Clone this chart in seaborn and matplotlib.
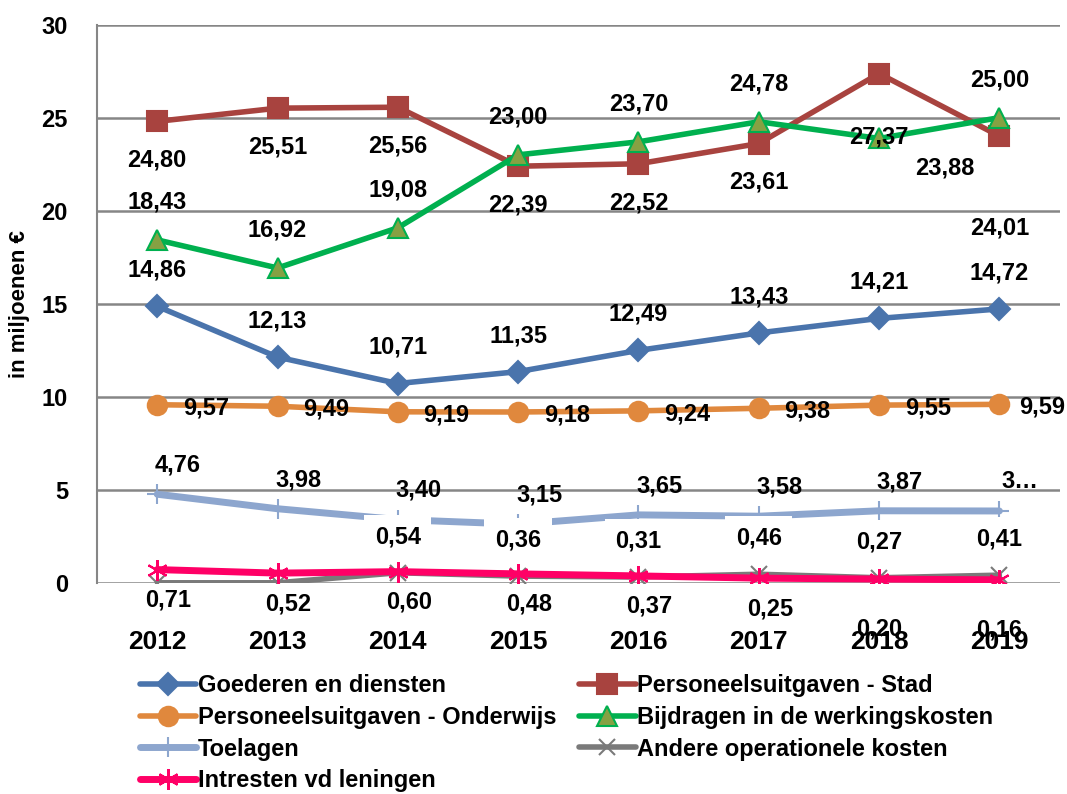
import matplotlib
matplotlib.use("Agg")
import matplotlib.pyplot as plt
import seaborn as sns
import numpy as np
import pandas as pd

years = ["2012", "2013", "2014", "2015", "2016", "2017", "2018", "2019"]
goederen = [14.86, 12.13, 10.71, 11.35, 12.49, 13.43, 14.21, 14.72]
stad = [24.80, 25.51, 25.56, 22.39, 22.52, 23.61, 27.37, 24.01]
onderwijs = [9.57, 9.49, 9.19, 9.18, 9.24, 9.38, 9.55, 9.59]
bijdragen = [18.43, 16.92, 19.08, 23.00, 23.70, 24.78, 23.88, 25.00]
toelagen = [4.76, 3.98, 3.40, 3.15, 3.65, 3.58, 3.87, 3.86]
andere = [0.00, 0.00, 0.54, 0.36, 0.31, 0.46, 0.27, 0.41]
intresten = [0.71, 0.52, 0.60, 0.48, 0.37, 0.25, 0.20, 0.16]
series_names = ["Goederen en diensten", "Personeelsuitgaven - Stad",
                "Personeelsuitgaven - Onderwijs", "Bijdragen in de werkingskosten",
                "Toelagen", "Andere operationele kosten", "Intresten vd leningen"]
y_ticks = [0, 5, 10, 15, 20, 25, 30]
y_label = "in miljoenen €"

sns.set_theme(style="white")
FONT = ["Liberation Sans", "DejaVu Sans"]
plt.rcParams["font.family"] = FONT
for k in ["text.color", "axes.labelcolor", "xtick.color", "ytick.color"]:
    plt.rcParams[k] = "black"

fig = plt.figure(figsize=(10.67, 7.94), dpi=100)
ax = fig.add_axes([0.091, 0.266, 0.902, 0.703])

x = np.arange(len(years))
all_vals = [goederen, stad, onderwijs, bijdragen, toelagen, andere, intresten]

styles = [
    dict(color="#4A74AC", marker="D", ms=11, lw=4.0, mfc="#4A74AC", mec="#4A74AC"),
    dict(color="#A8433F", marker="s", ms=14, lw=4.0, mfc="#A8433F", mec="#A8433F"),
    dict(color="#E0883D", marker="o", ms=14, lw=4.0, mfc="#E0883D", mec="#E0883D"),
    dict(color="#00B04F", marker="^", ms=14, lw=4.0, mfc="#86A143", mec="#00B04F"),
    dict(color="#8DA6CE", marker="+", ms=14, lw=5.0, mfc="#8DA6CE", mec="#8DA6CE"),
    dict(color="#7A7A7A", marker="x", ms=12, lw=4.0, mfc="#7A7A7A", mec="#7A7A7A"),
    dict(color="#FF0066", marker=(6, 2, 0), ms=15, lw=5.0, mfc="#FF0066", mec="#FF0066"),
]
zorders = [4, 4, 4, 5, 3, 3, 4]

for name, vals, st, z in zip(series_names, all_vals, styles, zorders):
    df = pd.DataFrame({"x": x, "y": vals})
    sns.lineplot(data=df, x="x", y="y", ax=ax, color=st["color"], linewidth=st["lw"],
                 marker=st["marker"], markersize=st["ms"], markerfacecolor=st["mfc"],
                 markeredgecolor=st["mec"], markeredgewidth=1.5, label=name, zorder=z)

# data labels: (dx, dy) offsets in points per series
offsets = [(0, 26), (0, -28), (35, -2), (0, 27), (15, 21), (0, 26), (8, -22)]
overrides = {(1, 6): (0, -46), (1, 7): (0, -66), (3, 6): (47, -21),
             (2, 7): (31, -2), (6, 6): (0, -36), (6, 7): (0, -36)}
texts_override = {(4, 7): "3…"}
lab_kw = dict(fontsize=17, fontweight="bold", color="black", ha="center", va="center")
for si, vals in enumerate(all_vals):
    for i, v in enumerate(vals):
        if v == 0:
            continue
        dx, dy = overrides.get((si, i), offsets[si])
        txt = texts_override.get((si, i), f"{v:.2f}".replace(".", ","))
        bbox = None
        if si == 5:
            bbox = dict(boxstyle="square,pad=0.45", fc="white", ec="none")
        ax.annotate(txt, (x[i], v), xytext=(dx, dy), textcoords="offset points",
                    zorder=6, bbox=bbox, **lab_kw)

ax.set_xlim(-0.5, len(years) - 0.5)
ax.set_ylim(0, 30)
ax.set_yticks(y_ticks)
ax.set_yticklabels([str(t) for t in y_ticks], fontsize=17, fontweight="bold")
ax.set_xticks(x)
ax.set_xticklabels(years, fontsize=19, fontweight="bold")
ax.tick_params(axis="x", length=0, pad=34)
ax.tick_params(axis="y", length=0, pad=21)
ax.set_xlabel("")
ax.set_ylabel(y_label, fontsize=16, fontweight="bold", labelpad=8)
ax.grid(axis="y", color="#868686", linewidth=1.8, zorder=0)
ax.set_axisbelow(True)
for s in ["top", "right", "bottom"]:
    ax.spines[s].set_visible(False)
ax.spines["left"].set_color("#868686")
ax.spines["left"].set_linewidth(1.5)

handles, labels = ax.get_legend_handles_labels()
order = [0, 2, 4, 6, 1, 3, 5]
ax.get_legend().remove()
fig.legend([handles[i] for i in order], [labels[i] for i in order],
           loc="upper left", bbox_to_anchor=(0.131, 0.151),
           ncol=2, frameon=False, prop=dict(weight="bold", size=17),
           handlelength=2.4, handletextpad=0.05, columnspacing=0.97,
           labelspacing=0.37, borderaxespad=0, borderpad=0)

fig.savefig("out.png", dpi=100)
